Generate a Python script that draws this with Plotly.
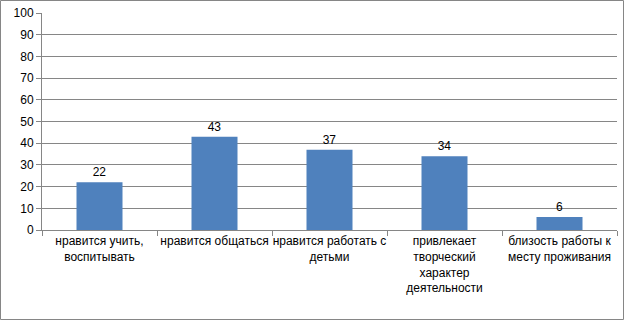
import plotly.graph_objects as go

categories = [
    "нравится учить,<br>воспитывать",
    "нравится общаться",
    "нравится работать с<br>детьми",
    "привлекает<br>творческий<br>характер<br>деятельности",
    "близость работы к<br>месту проживания",
]
values = [22, 43, 37, 34, 6]
y_ticks = list(range(0, 101, 10))

W, H = 624, 320
L, R, T, B = 42, 7, 13, 90
pw, ph = W - L - R, H - T - B

fig = go.Figure(go.Bar(
    x=categories, y=values,
    marker=dict(color="#4F81BD", line=dict(width=0)),
    text=[str(v) for v in values],
    textposition="outside",
    textfont=dict(family="Liberation Sans, Arial", size=12, color="#000000"),
    cliponaxis=False,
))

gray = "#868686"
fig.update_layout(
    width=W, height=H,
    margin=dict(l=L, r=R, t=T, b=B, autoexpand=False),
    paper_bgcolor="white", plot_bgcolor="white",
    bargap=0.6,
    showlegend=False,
    font=dict(family="Liberation Sans, Arial", size=12, color="#000000"),
    xaxis=dict(
        showgrid=False, showline=True, linecolor=gray, linewidth=1,
        ticks="outside", tickson="boundaries", ticklen=5, tickcolor=gray,
        tickfont=dict(size=12), tickangle=0, automargin=False,
    ),
    yaxis=dict(
        range=[0, 100], tickvals=y_ticks, showgrid=True, gridcolor=gray, gridwidth=1,
        showline=True, linecolor=gray, linewidth=1,
        ticks="outside", ticklen=5, tickcolor=gray,
        tickfont=dict(size=12), zeroline=False, automargin=False,
    ),
    shapes=[dict(
        type="rect", xref="paper", yref="paper",
        x0=(0.5 - L) / pw, x1=(W - 0.5 - L) / pw,
        y0=(0.5 - B) / ph, y1=(H - 0.5 - B) / ph,
        line=dict(color=gray, width=1), layer="above",
    )],
)

fig.write_html(
    "out.html",
    config={"displayModeBar": False},
    post_script="document.body.style.margin='0';document.body.style.overflow='hidden';",
)
